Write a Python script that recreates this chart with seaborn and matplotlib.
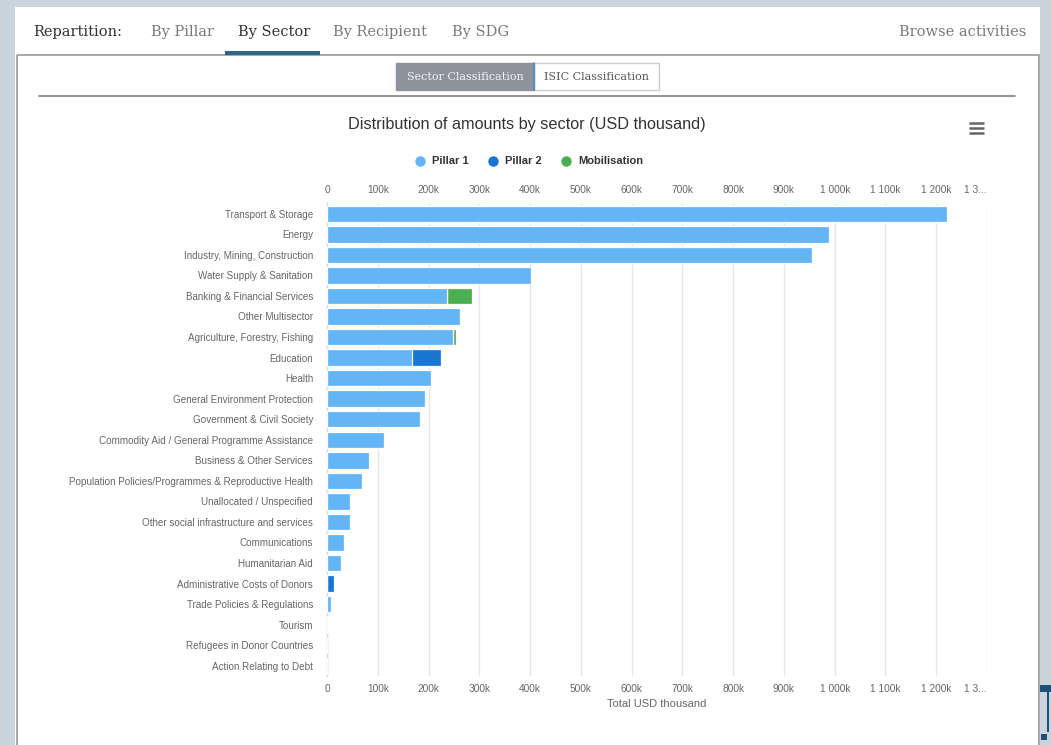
import matplotlib
matplotlib.use("Agg")
import matplotlib.pyplot as plt
from matplotlib.patches import Rectangle
import seaborn as sns
import pandas as pd

categories = [
    "Transport & Storage", "Energy", "Industry, Mining, Construction",
    "Water Supply & Sanitation", "Banking & Financial Services", "Other Multisector",
    "Agriculture, Forestry, Fishing", "Education", "Health",
    "General Environment Protection", "Government & Civil Society",
    "Commodity Aid / General Programme Assistance", "Business & Other Services",
    "Population Policies/Programmes & Reproductive Health", "Unallocated / Unspecified",
    "Other social infrastructure and services", "Communications", "Humanitarian Aid",
    "Administrative Costs of Donors", "Trade Policies & Regulations", "Tourism",
    "Refugees in Donor Countries", "Action Relating to Debt",
]
pillar1 = [1221, 988, 955, 402, 236, 262, 248, 167, 205, 193, 184, 112, 83, 68,
           45, 45, 34, 27, 0, 7, 1, 0, 0]
pillar2 = [0, 0, 0, 0, 0, 0, 0, 57, 0, 0, 0, 0, 0, 0, 0, 0, 0, 0, 13, 0, 0, 0, 0]
mobilisation = [0, 0, 0, 0, 49, 0, 6, 0, 0, 0, 0, 0, 0, 0, 0, 0, 0, 0, 0, 0, 0, 0, 0]
series_names = ["Pillar 1", "Pillar 2", "Mobilisation"]
tick_values = [0, 100, 200, 300, 400, 500, 600, 700, 800, 900, 1000, 1100, 1200, 1300]
tick_labels = ["0", "100k", "200k", "300k", "400k", "500k", "600k", "700k", "800k",
               "900k", "1 000k", "1 100k", "1 200k", "1 3..."]

colors = {"Pillar 1": "#64b5f6", "Pillar 2": "#1976d2", "Mobilisation": "#4caf50"}

df = pd.DataFrame({"sector": categories, "p1": pillar1, "p2": pillar2, "mob": mobilisation})
df["c1"] = df["p1"]
df["c2"] = df["p1"] + df["p2"]
df["c3"] = df["p1"] + df["p2"] + df["mob"]

sns.set_theme(style="white")
plt.rcParams["font.family"] = ["Liberation Sans", "DejaVu Sans"]

W, H = 1051, 745
fig = plt.figure(figsize=(W / 100, H / 100), dpi=100)
fig.patch.set_facecolor("#cbd3dc")

# ---- page decoration layer ----
bg = fig.add_axes([0, 0, 1, 1], zorder=0)
bg.set_xlim(0, W)
bg.set_ylim(H, 0)
bg.axis("off")
bg.add_patch(Rectangle((15, 7), 1025, 740, facecolor="white", edgecolor="none"))
bg.add_patch(Rectangle((16.5, 54.5), 1022, 700, facecolor="none", edgecolor="#9a9a9a", lw=1.2))
bg.add_patch(Rectangle((225, 50.5), 95, 4, facecolor="#2b6788", edgecolor="none"))
serif = ["DejaVu Serif"]
tab_fs = 10.5
bg.text(33, 32, "Repartition:", fontsize=tab_fs, color="#333333", va="center", family=serif)
bg.text(151, 32, "By Pillar", fontsize=tab_fs, color="#7a7a7a", va="center", family=serif)
bg.text(238, 32, "By Sector", fontsize=tab_fs, color="#333333", va="center", family=serif)
bg.text(333, 32, "By Recipient", fontsize=tab_fs, color="#7a7a7a", va="center", family=serif)
bg.text(452, 32, "By SDG", fontsize=tab_fs, color="#7a7a7a", va="center", family=serif)
bg.text(1026, 32, "Browse activities", fontsize=tab_fs, color="#7a7a7a", va="center",
        ha="right", family=serif)
# toggle buttons
bg.add_patch(Rectangle((534, 63), 125, 27, facecolor="white", edgecolor="#cccccc", lw=1))
bg.add_patch(Rectangle((396, 63), 138, 27, facecolor="#8e929b", edgecolor="#8e929b", lw=1))
bg.plot([534, 534], [63, 90], color="#4a90c8", lw=1.2)
bg.text(465, 76.5, "Sector Classification", fontsize=8.0, color="#f2f2f2", va="center",
        ha="center", family=serif)
bg.text(596.5, 76.5, "ISIC Classification", fontsize=8.0, color="#555555", va="center",
        ha="center", family=serif)
bg.plot([39, 1015], [95.5, 95.5], color="#8a8a8a", lw=1.3)
# title
bg.text(527, 125, "Distribution of amounts by sector (USD thousand)", fontsize=11.7,
        color="#333333", ha="center", va="center")
# hamburger menu
for yy in (123, 128, 133):
    bg.plot([969, 984], [yy, yy], color="#666666", lw=1.8, solid_capstyle="butt")
# legend
leg_items = [(420, "Pillar 1"), (493, "Pillar 2"), (566, "Mobilisation")]
for xx, name in leg_items:
    bg.plot([xx], [161], marker="o", ms=7.5, color=colors[name], mec="none")
    bg.text(xx + 12, 161, name, fontsize=8, fontweight="bold", color="#333333", va="center")
# x-axis title
bg.text(657, 704, "Total USD thousand", fontsize=8, color="#666666", ha="center", va="center")
# right-edge fragment
bg.add_patch(Rectangle((1040, 685), 11, 7, facecolor="#1f4e79", edgecolor="none", clip_on=False))
bg.add_patch(Rectangle((1047, 692), 2, 40, facecolor="#1f4e79", edgecolor="none", clip_on=False))
bg.add_patch(Rectangle((1041, 734), 6, 6, facecolor="#1f4e79", edgecolor="none", clip_on=False))

# ---- chart ----
left, right, top, bottom = 327, 987, 203.5, 676
ax = fig.add_axes([left / W, 1 - bottom / H, (right - left) / W, (bottom - top) / H], zorder=1)
ax.set_facecolor("none")

for col, name in [("c3", "Mobilisation"), ("c2", "Pillar 2"), ("c1", "Pillar 1")]:
    sns.barplot(data=df, y="sector", x=col, order=categories, orient="h", color=colors[name],
                saturation=1, errorbar=None, width=0.8, edgecolor="white", linewidth=0.9,
                ax=ax, zorder=3)

ax.set_xlim(0, 1300)
ax.set_xticks(tick_values)
ax.set_xticklabels(tick_labels)
ax.set_xlabel("")
ax.set_ylabel("")
ax.grid(axis="x", color="#e6e6e6", lw=1)
ax.grid(axis="y", visible=False)
ax.set_axisbelow(True)
for s in ["top", "right", "bottom"]:
    ax.spines[s].set_visible(False)
ax.spines["left"].set_color("#ccd6eb")
ax.spines["left"].set_linewidth(1)
ax.tick_params(axis="x", top=True, labeltop=True, bottom=True, labelbottom=True, length=0,
               labelsize=7.3, colors="#666666", pad=6)
ax.tick_params(axis="y", length=0, labelsize=7.15, colors="#666666", pad=10)
last = ax.xaxis.get_major_ticks()[-1]
last.label1.set_horizontalalignment("right")
last.label2.set_horizontalalignment("right")

fig.savefig("out.png", dpi=100, facecolor=fig.get_facecolor())
